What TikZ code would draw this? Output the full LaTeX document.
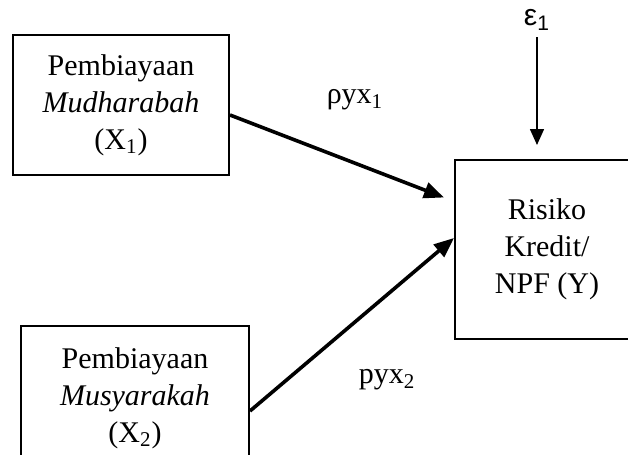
\documentclass[tikz,border=0pt]{standalone}
\usepackage{fontspec}
\setmainfont{Liberation Serif}
\setsansfont{Liberation Sans}
\usetikzlibrary{arrows.meta}

\tikzset{
	var/.style={draw, line width=1pt, align=center, inner sep=2pt},
	path/.style={->, line width=1.8pt, >={Triangle[length=10pt,width=8pt]}},
	err/.style={->, line width=0.8pt, >={Triangle[length=8pt,width=7pt]}}
}

\begin{document}
\begin{tikzpicture}[x=0.5pt, y=-0.5pt, font=\fontsize{15}{18.5}\selectfont]
	\useasboundingbox (0,0) rectangle (628,455);

	\node (mudh) [var, minimum width=108pt, minimum height=70pt] at (121,105) {Pembiayaan\\\textit{Mudharabah}\\(X\textsubscript{1})};
	\node (musy) [var, minimum width=114pt, minimum height=72pt] at (135,398) {Pembiayaan\\\textit{Musyarakah}\\(X\textsubscript{2})};
	\node (npf) [var, minimum width=92pt, minimum height=89.5pt] at (547,249.5) {Risiko\\Kredit/\\NPF (Y)};

	\node (eps) at (537,20) {\sffamily ε\textsubscript{1}};
	\coordinate (epsend) at (537,145);
	\node (rho1) at (355,100) {ρyx\textsubscript{1}};
	\node (rho2) at (387,380) {pyx\textsubscript{2}};

	\draw[path] ([yshift=-5pt]mudh.east) -- ([xshift=-5pt, yshift=26pt]npf.west);
	\draw[path] ([yshift=-6.5pt]musy.east) -- ([yshift=5.75pt]npf.west);
	\draw[err] (eps) -- (epsend);
\end{tikzpicture}
\end{document}
